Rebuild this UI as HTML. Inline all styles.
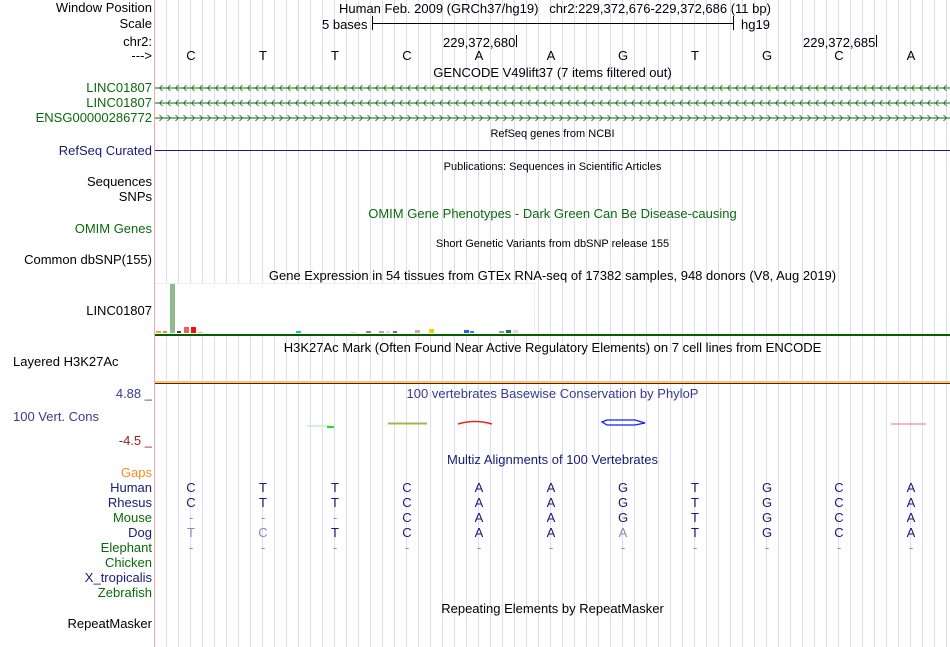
<!DOCTYPE html>
<html><head><meta charset="utf-8"><style>
body{margin:0;width:950px;height:647px;background:#fff;position:relative;overflow:hidden;font-family:"Liberation Sans",sans-serif;font-size:13px;color:#000}
#grid{position:absolute;left:155px;top:0;width:795px;height:647px;background:repeating-linear-gradient(to right,transparent 0,transparent 11px,#dcdcf6 11px,#dcdcf6 12px)}
#redline{position:absolute;left:154px;top:0;width:1px;height:647px;background:#f4a8a8}
.l{position:absolute;right:798px;white-space:nowrap;line-height:14px}
.t{position:absolute;left:155px;width:795px;text-align:center;white-space:nowrap;line-height:14px}
.s{font-size:11px}
.row{position:absolute;left:155px;display:flex;line-height:14px}
.row span{width:72px;text-align:center;display:block}
.g{color:#0a6a0a}.n{color:#1a1a78}.gr{color:#8a8ab8}
.a{position:absolute}
</style></head><body>
<div id="grid"></div><div id="redline"></div>

<div class="l" style="top:1px">Window Position</div>
<div class="l" style="top:17px">Scale</div>
<div class="l" style="top:35px">chr2:</div>
<div class="l" style="top:49px">---&gt;</div>
<div class="a" style="left:339px;top:1px;white-space:nowrap">Human Feb. 2009 (GRCh37/hg19)&nbsp;&nbsp; chr2:229,372,676-229,372,686 (11 bp)</div>
<div class="a" style="left:322px;top:17px">5 bases</div>
<div class="a" style="left:372px;top:16px;width:1px;height:14px;background:#000"></div>
<div class="a" style="left:372px;top:23px;width:362px;height:1px;background:#000"></div>
<div class="a" style="left:733px;top:16px;width:1px;height:14px;background:#000"></div>
<div class="a" style="left:741px;top:17px">hg19</div>
<div class="a" style="left:443px;top:35px">229,372,680</div>
<div class="a" style="left:516px;top:35px;width:1px;height:12px;background:#000"></div>
<div class="a" style="left:803px;top:35px">229,372,685</div>
<div class="a" style="left:876px;top:35px;width:1px;height:12px;background:#000"></div>
<div class="row" style="top:49px"><span>C</span><span>T</span><span>T</span><span>C</span><span>A</span><span>A</span><span>G</span><span>T</span><span>G</span><span>C</span><span>A</span></div>

<div class="t" style="top:66px">GENCODE V49lift37 (7 items filtered out)</div>
<div class="l g" style="top:81px">LINC01807</div>
<div class="l g" style="top:96px">LINC01807</div>
<div class="l g" style="top:111px">ENSG00000286772</div>
<svg class="a" style="left:155px;top:82px" width="795" height="44">
<defs>
<pattern id="pl" width="8" height="12" patternUnits="userSpaceOnUse" x="2"><path d="M5.5 3 L2.5 6 L5.5 9" stroke="#0a6a0a" fill="none" stroke-width="0.8"/></pattern>
<pattern id="pr" width="8" height="12" patternUnits="userSpaceOnUse" x="2"><path d="M2.5 3 L5.5 6 L2.5 9" stroke="#0a6a0a" fill="none" stroke-width="0.8"/></pattern>
</defs>
<rect x="0" y="5.5" width="795" height="1" fill="#0a6a0a"/>
<rect x="0" y="0" width="795" height="12" fill="url(#pl)"/>
<g transform="translate(0,15)"><rect x="0" y="5.5" width="795" height="1" fill="#0a6a0a"/><rect x="0" y="0" width="795" height="12" fill="url(#pl)"/></g>
<g transform="translate(0,30)"><rect x="0" y="5.5" width="795" height="1" fill="#0a6a0a"/><rect x="0" y="0" width="795" height="12" fill="url(#pr)"/></g>
</svg>

<div class="t s" style="top:127px">RefSeq genes from NCBI</div>
<div class="l n" style="top:144px">RefSeq Curated</div>
<div class="a" style="left:155px;top:150px;width:795px;height:1px;background:#1a1a90"></div>
<div class="t s" style="top:160px">Publications: Sequences in Scientific Articles</div>
<div class="l" style="top:175px">Sequences</div>
<div class="l" style="top:190px">SNPs</div>
<div class="t g" style="top:207px">OMIM Gene Phenotypes - Dark Green Can Be Disease-causing</div>
<div class="l g" style="top:222px">OMIM Genes</div>
<div class="t s" style="top:237px">Short Genetic Variants from dbSNP release 155</div>
<div class="l" style="top:253px">Common dbSNP(155)</div>
<div class="t" style="top:269px">Gene Expression in 54 tissues from GTEx RNA-seq of 17382 samples, 948 donors (V8, Aug 2019)</div>
<div class="l" style="top:304px">LINC01807</div>
<div class="a" style="left:155px;top:283px;width:379px;height:50px;border:1px solid #eee;border-left:none;background:#fff"></div>
<svg class="a" style="left:155px;top:283px" width="400" height="52">
<rect x="1" y="48" width="5" height="2" fill="#f4a040"/>
<rect x="8" y="48" width="4" height="2" fill="#e89020"/>
<rect x="15" y="1" width="5" height="49" fill="#8fbc8f"/>
<rect x="22" y="48" width="4" height="2" fill="#7a2060"/>
<rect x="29" y="44" width="5" height="6" fill="#f06050"/>
<rect x="36" y="44" width="5" height="6" fill="#f01010"/>
<rect x="43" y="49" width="5" height="1" fill="#c8b8a0"/>
<rect x="141" y="48" width="5" height="2" fill="#10c8c8"/>
<rect x="196" y="49" width="5" height="1" fill="#e0d0d0"/>
<rect x="211" y="48" width="5" height="2" fill="#908080"/>
<rect x="224" y="48" width="5" height="2" fill="#c0a8a0"/>
<rect x="231" y="48" width="4" height="2" fill="#e8d8d8"/>
<rect x="238" y="48" width="4" height="2" fill="#9050b0"/>
<rect x="260" y="47" width="5" height="3" fill="#c8b090"/>
<rect x="274" y="46" width="5" height="4" fill="#f0d000"/>
<rect x="309" y="47" width="5" height="3" fill="#3060d0"/>
<rect x="315" y="48" width="4" height="2" fill="#3080e0"/>
<rect x="344" y="48" width="5" height="2" fill="#a09898"/>
<rect x="351" y="47" width="5" height="3" fill="#108040"/>
<rect x="358" y="47" width="5" height="3" fill="#f0d0d0"/>
</svg>
<div class="a" style="left:155px;top:334px;width:795px;height:2px;background:#006000"></div>
<div class="t" style="top:341px">H3K27Ac Mark (Often Found Near Active Regulatory Elements) on 7 cell lines from ENCODE</div>
<div class="a" style="top:355px;left:13px;line-height:14px">Layered H3K27Ac</div>
<div class="a" style="left:155px;top:381px;width:795px;height:2px;background:#f8c870"></div>
<div class="a" style="left:155px;top:383px;width:795px;height:1px;background:#602010"></div>

<div class="l" style="top:387px;color:#3a3a90">4.88 _</div>
<div class="t" style="top:387px;color:#3a3a90">100 vertebrates Basewise Conservation by PhyloP</div>
<div class="a" style="top:410px;left:13px;line-height:14px;color:#3a3a90">100 Vert. Cons</div>
<div class="l" style="top:434px;color:#902020">-4.5 _</div>
<svg class="a" style="left:155px;top:415px" width="795" height="20">
<line x1="152" y1="11" x2="176" y2="11" stroke="#a0f0a0" stroke-width="1"/>
<rect x="172" y="11" width="7" height="2" fill="#20e020"/>
<line x1="233" y1="8.5" x2="272" y2="8.5" stroke="#b0b040" stroke-width="2"/>
<path d="M303 9 Q320 4 337 9" stroke="#f02020" fill="none" stroke-width="1.5"/>
<path d="M447 7 L452 5 L480 5 L490 8 L480 10 L452 10 Z" stroke="#1020f0" fill="none" stroke-width="1.3"/>
<line x1="736" y1="9" x2="771" y2="9" stroke="#f07070" stroke-width="1"/>
</svg>
<div class="t n" style="top:453px">Multiz Alignments of 100 Vertebrates</div>
<div class="l" style="top:466px;color:#f09020">Gaps</div>
<div class="l n" style="top:481px">Human</div>
<div class="l n" style="top:496px">Rhesus</div>
<div class="l g" style="top:511px">Mouse</div>
<div class="l n" style="top:526px">Dog</div>
<div class="l g" style="top:541px">Elephant</div>
<div class="l g" style="top:556px">Chicken</div>
<div class="l n" style="top:571px">X_tropicalis</div>
<div class="l g" style="top:586px">Zebrafish</div>
<div class="row n" style="top:481px"><span>C</span><span>T</span><span>T</span><span>C</span><span>A</span><span>A</span><span>G</span><span>T</span><span>G</span><span>C</span><span>A</span></div>
<div class="row n" style="top:496px"><span>C</span><span>T</span><span>T</span><span>C</span><span>A</span><span>A</span><span>G</span><span>T</span><span>G</span><span>C</span><span>A</span></div>
<div class="row n" style="top:511px"><span class="gr">-</span><span class="gr">-</span><span class="gr">-</span><span>C</span><span>A</span><span>A</span><span>G</span><span>T</span><span>G</span><span>C</span><span>A</span></div>
<div class="row n" style="top:526px"><span class="gr">T</span><span class="gr">C</span><span>T</span><span>C</span><span>A</span><span>A</span><span class="gr">A</span><span>T</span><span>G</span><span>C</span><span>A</span></div>
<div class="row gr" style="top:541px"><span>-</span><span>-</span><span>-</span><span>-</span><span>-</span><span>-</span><span>-</span><span>-</span><span>-</span><span>-</span><span>-</span></div>
<div class="t" style="top:602px">Repeating Elements by RepeatMasker</div>
<div class="l" style="top:617px">RepeatMasker</div>
</body></html>
